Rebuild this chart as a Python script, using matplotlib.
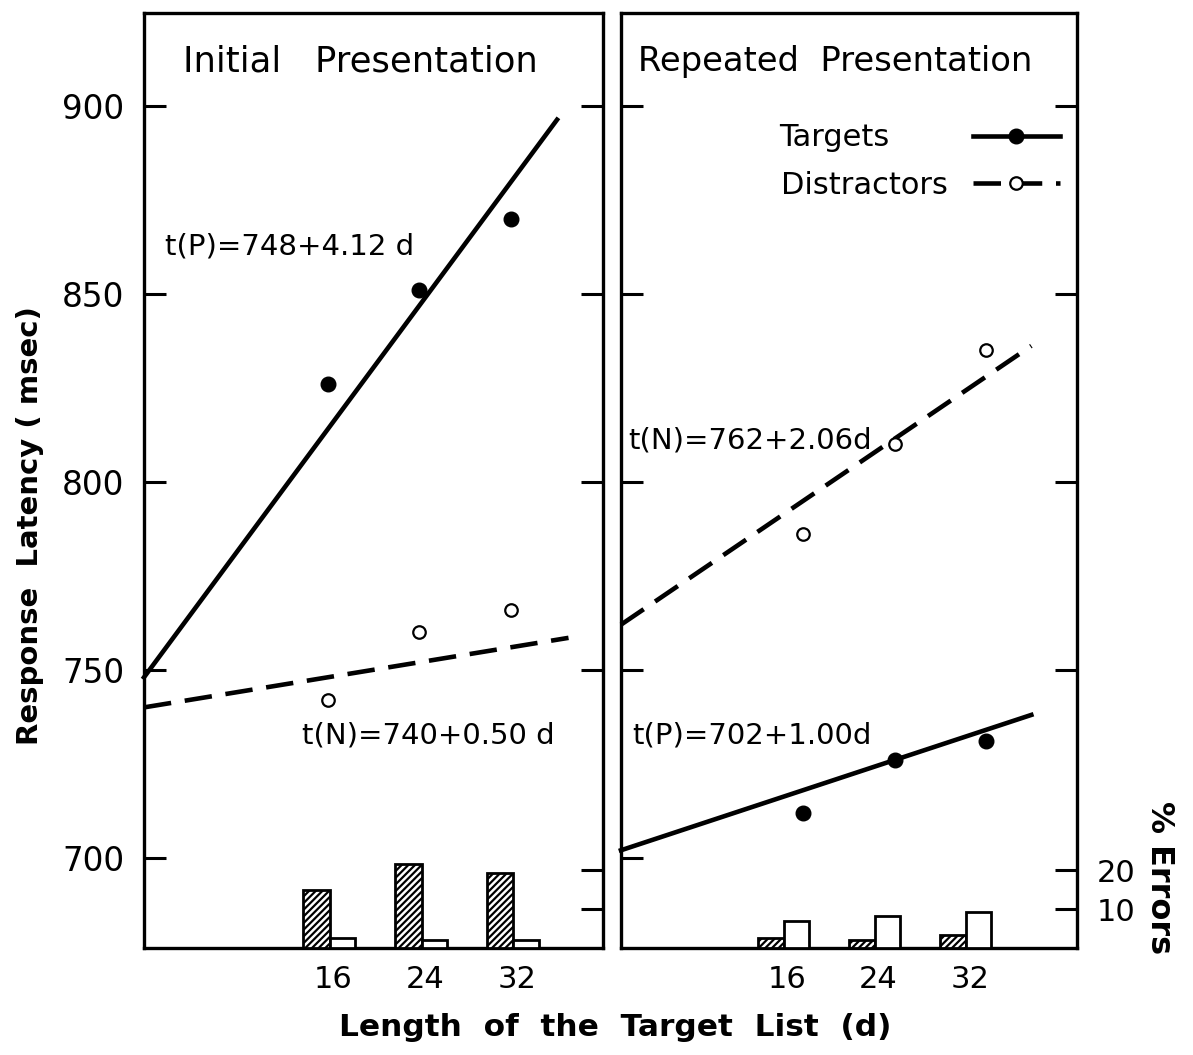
import numpy as np
import matplotlib
matplotlib.use("Agg")
import matplotlib.pyplot as plt
from matplotlib.lines import Line2D

plt.rcParams['font.family'] = ['DejaVu Sans']
plt.rcParams['hatch.linewidth'] = 1.6

# list lengths and mean latencies (msec)
d = [16, 24, 32]
init_targets = [826, 851, 870]
init_distractors = [742, 760, 766]
rep_targets = [712, 726, 731]
rep_distractors = [786, 810, 835]

# fitted lines: intercept, slope, last d drawn
init_fit_p = (748, 4.12, 36)
init_fit_n = (740, 0.50, 37)
rep_fit_n = (762, 2.06, 36)
rep_fit_p = (702, 1.00, 36)

# % errors (hatched = targets, open = distractors)
init_err_hatch = [15.0, 21.5, 19.3]
init_err_open = [2.7, 2.1, 2.1]
rep_err_hatch = [2.6, 2.0, 3.3]
rep_err_open = [7.0, 8.3, 9.2]

yticks = [700, 750, 800, 850, 900]
err_ticks = [10, 20]

W, H = 11.93, 10.55
fig = plt.figure(figsize=(W, H), dpi=100)
ax1 = fig.add_axes([0.1207, 0.1014, 0.3847, 0.8863])
ax2 = fig.add_axes([0.5205, 0.1014, 0.3822, 0.8863])

LW = 3.3
dash = (6, 3)


def fit_line(ax, fit, style):
    a, b, dmax = fit
    xs = np.array([0, dmax])
    if style == 'dash':
        ax.plot(xs, a + b * xs, color='black', lw=LW, ls=(0, dash),
                solid_capstyle='butt', clip_on=False)
    else:
        ax.plot(xs, a + b * xs, color='black', lw=LW, clip_on=False)


def setup(ax, show_labels, shift, err_h, err_o):
    ax.set_xlim(0, 40)
    ax.set_ylim(676, 924.7)
    for s in ax.spines.values():
        s.set_linewidth(2.4)
    ax.set_yticks(yticks)
    ax.tick_params(axis='y', direction='in', length=16, width=2.2,
                   left=True, right=False, labelleft=show_labels,
                   labelsize=23.5, pad=14)
    ticks_x = [v + shift + 0.3 for v in d]
    ax.set_xticks(ticks_x)
    ax.set_xticklabels([str(v) for v in d])
    ax.tick_params(axis='x', length=0, labelsize=22, pad=12)

    # latency ticks on the right side
    axl = ax.twinx()
    axl.set_ylim(ax.get_ylim())
    axl.set_yticks(yticks[1:])
    axl.tick_params(axis='y', direction='in', length=16, width=2.2,
                    labelright=False)
    for s in axl.spines.values():
        s.set_visible(False)

    # error bars axis
    axe = ax.twinx()
    axe.set_ylim(0, 240)
    axe.set_yticks(err_ticks)
    axe.tick_params(axis='y', direction='in', length=16, width=2.2,
                    labelright=not show_labels, labelsize=22, pad=14)
    for s in axe.spines.values():
        s.set_visible(False)
    xh = [v + shift - 2.3 for v in d]
    xo = [v + shift for v in d]
    axe.bar(xh, err_h, width=2.3, align='edge', facecolor='white',
            edgecolor='black', lw=2, hatch='/////')
    axe.bar(xo, err_o, width=2.2, align='edge', facecolor='white',
            edgecolor='black', lw=2)
    return axe


setup(ax1, True, 0.2, init_err_hatch, init_err_open)
setup(ax2, False, -1.7, rep_err_hatch, rep_err_open)

# left panel
fit_line(ax1, init_fit_p, 'solid')
fit_line(ax1, init_fit_n, 'dash')
ax1.plot(d, init_targets, 'o', color='black', ms=10.5)
ax1.plot(d, init_distractors, 'o', mfc='white', mec='black', ms=9, mew=1.6)
ax1.text(3.4, 911.7, 'Initial   Presentation', fontsize=25.5, va='center', ha='left')
ax1.text(1.8, 862.7, 't(P)=748+4.12 d', fontsize=21, va='center', ha='left')
ax1.text(13.8, 732.6, 't(N)=740+0.50 d', fontsize=21, va='center', ha='left')

# right panel
fit_line(ax2, rep_fit_n, 'dash')
fit_line(ax2, rep_fit_p, 'solid')
ax2.plot(d, rep_targets, 'o', color='black', ms=10.5)
ax2.plot(d, rep_distractors, 'o', mfc='white', mec='black', ms=9, mew=1.6)
ax2.text(1.5, 911.7, 'Repeated  Presentation', fontsize=24.3, va='center', ha='left')
ax2.text(0.6, 811.1, 't(N)=762+2.06d', fontsize=21, va='center', ha='left')
ax2.text(1.0, 732.6, 't(P)=702+1.00d', fontsize=21, va='center', ha='left')

h_t = Line2D([], [], color='black', lw=LW, marker='o', ms=10.5)
h_d = Line2D([], [], color='black', lw=LW, ls=(0, dash), marker='o',
             mfc='white', mec='black', ms=9, mew=1.6)
# trailing spaces keep the two labels left-aligned next to right-aligned keys
ax2.legend([h_t, h_d], ['Targets' + '\u00a0' * 6, 'Distractors'], loc='upper right',
           bbox_to_anchor=(0.962, 0.882), frameon=False, markerfirst=False,
           fontsize=22, handlelength=2.85, handletextpad=0.8, numpoints=1,
           borderaxespad=0, borderpad=0, labelspacing=0.6)

fig.text(0.025, 0.502, 'Response  Latency ( msec)', rotation=90, fontsize=21,
         fontweight='bold', ha='center', va='center')
fig.text(0.5155, 0.0265, 'Length  of  the  Target  List  (d)', fontsize=22.5,
         fontweight='bold', ha='center', va='center')
fig.text(0.972, 0.168, '% Errors', rotation=270, fontsize=23,
         fontweight='bold', ha='center', va='center')

fig.savefig('out.png', dpi=100)
